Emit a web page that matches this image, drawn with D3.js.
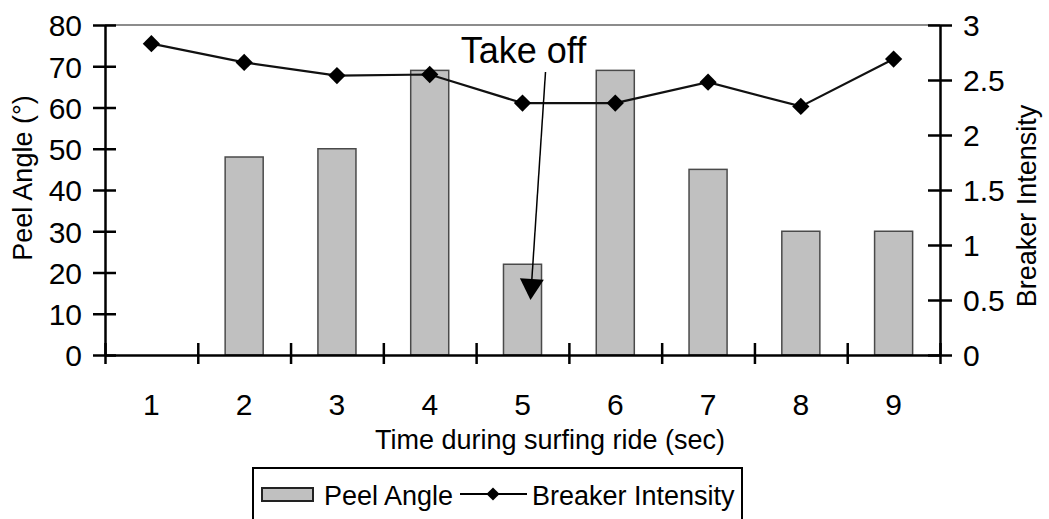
<!DOCTYPE html>
<html>
<head>
<meta charset="utf-8">
<script src="https://cdn.jsdelivr.net/npm/d3@7"></script>
<style>
body { margin: 0; background: #fff; }
text { font-family: "Liberation Sans", Arial, sans-serif; fill: #000; }
</style>
</head>
<body>
<svg id="chart" width="1049" height="519"></svg>
<script>
// data
let times = ['1', '2', '3', '4', '5', '6', '7', '8', '9'];
let peelAngle = [null, 48, 50, 69, 22, 69, 45, 30, 30];
let breakerIntensity = [2.83, 2.66, 2.54, 2.55, 2.29, 2.29, 2.48, 2.26, 2.69];
let leftTicks = [0, 10, 20, 30, 40, 50, 60, 70, 80];
let rightTicks = [0, 0.5, 1, 1.5, 2, 2.5, 3];

let svg = d3.select('#chart');
let plotLeft = 105, plotRight = 940, plotTop = 25, plotBottom = 355;

let x = d3.scaleBand()
    .domain(times)
    .range([plotLeft, plotRight])
    .paddingInner(0.59)
    .paddingOuter(0.295);
let xEdge = d3.scaleLinear().domain([0, times.length]).range([plotLeft, plotRight]);
let yL = d3.scaleLinear().domain([0, 80]).range([plotBottom, plotTop]);
let yR = d3.scaleLinear().domain([0, 3]).range([plotBottom, plotTop]);

// top border of plot area
svg.append('line')
    .attr('x1', plotLeft).attr('x2', plotRight)
    .attr('y1', plotTop).attr('y2', plotTop)
    .attr('stroke', '#8c8c8c')
    .attr('stroke-width', 2);

// bars
svg.append('g').selectAll('rect')
    .data(times.map((t, i) => ({t: t, v: peelAngle[i]})).filter(d => d.v != null))
    .enter()
    .append('rect')
    .attr('x', d => x(d.t))
    .attr('y', d => yL(d.v))
    .attr('width', x.bandwidth())
    .attr('height', d => yL(0) - yL(d.v))
    .attr('fill', '#c0c0c0')
    .attr('stroke', '#4a4a4a')
    .attr('stroke-width', 1.5);

// left axis
let gL = svg.append('g')
    .attr('transform', `translate(${plotLeft},0)`)
    .call(d3.axisLeft(yL).tickValues(leftTicks).tickSize(0).tickPadding(23));
gL.select('.domain').attr('stroke', '#000').attr('stroke-width', 2.5);
gL.selectAll('.tick line').attr('x1', -12).attr('x2', 11).attr('stroke', '#000').attr('stroke-width', 2.5);
gL.selectAll('.tick text').attr('font-size', 30).attr('dy', '0.36em');

// right axis
let gR = svg.append('g')
    .attr('transform', `translate(${plotRight},0)`)
    .call(d3.axisRight(yR).tickValues(rightTicks).tickFormat(d => d).tickSize(0).tickPadding(23));
gR.select('.domain').attr('stroke', '#000').attr('stroke-width', 2.5);
gR.selectAll('.tick line').attr('x1', -12).attr('x2', 12).attr('stroke', '#000').attr('stroke-width', 2.5);
gR.selectAll('.tick text').attr('font-size', 30).attr('dy', '0.36em');

// bottom axis: ticks at category edges, labels at centres
let gB = svg.append('g')
    .attr('transform', `translate(0,${plotBottom})`)
    .call(d3.axisBottom(xEdge).ticks(times.length).tickFormat('').tickSize(0));
gB.select('.domain').attr('stroke', '#000').attr('stroke-width', 2.5);
gB.selectAll('.tick line').attr('y1', -12).attr('y2', 9).attr('stroke', '#000').attr('stroke-width', 2.5);

svg.append('g').selectAll('text')
    .data(times)
    .enter()
    .append('text')
    .attr('x', d => x(d) + x.bandwidth() / 2)
    .attr('y', plotBottom + 60)
    .attr('text-anchor', 'middle')
    .attr('font-size', 30)
    .text(d => d);

// breaker intensity line
let pts = times.map((t, i) => [x(t) + x.bandwidth() / 2, yR(breakerIntensity[i])]);
svg.append('path')
    .attr('d', d3.line()(pts))
    .attr('fill', 'none')
    .attr('stroke', '#111')
    .attr('stroke-width', 2.2);
let diamond = d3.symbol().type(d3.symbolDiamond2).size(190);
svg.append('g').selectAll('path')
    .data(pts)
    .enter()
    .append('path')
    .attr('transform', d => `translate(${d[0]},${d[1]})`)
    .attr('d', diamond)
    .attr('fill', '#000');

// axis titles
svg.append('text')
    .attr('transform', 'translate(32,178) rotate(-90)')
    .attr('text-anchor', 'middle')
    .attr('font-size', 27)
    .text('Peel Angle (°)');
svg.append('text')
    .attr('transform', 'translate(1036,206) rotate(-90)')
    .attr('text-anchor', 'middle')
    .attr('font-size', 27)
    .text('Breaker Intensity');
svg.append('text')
    .attr('x', 550)
    .attr('y', 449)
    .attr('text-anchor', 'middle')
    .attr('font-size', 27)
    .text('Time during surfing ride (sec)');

// take off annotation
let cx5 = x('5') + x.bandwidth() / 2;
svg.append('text')
    .attr('x', cx5 + 1)
    .attr('y', 63)
    .attr('text-anchor', 'middle')
    .attr('font-size', 36)
    .text('Take off');
let a0 = [cx5 + 23, 72], a1 = [cx5 + 8, 300];
let ang = Math.atan2(a1[1] - a0[1], a1[0] - a0[0]);
let headLen = 21, headW = 12;
let base = [a1[0] - headLen * Math.cos(ang), a1[1] - headLen * Math.sin(ang)];
svg.append('line')
    .attr('x1', a0[0]).attr('y1', a0[1])
    .attr('x2', base[0]).attr('y2', base[1])
    .attr('stroke', '#000')
    .attr('stroke-width', 1.5);
svg.append('path')
    .attr('d', 'M' + a1 + 'L' + [base[0] + headW * Math.sin(ang), base[1] - headW * Math.cos(ang)] +
        'L' + [base[0] - headW * Math.sin(ang), base[1] + headW * Math.cos(ang)] + 'Z')
    .attr('fill', '#000');

// legend
let lg = svg.append('g');
lg.append('rect')
    .attr('x', 253).attr('y', 468)
    .attr('width', 489).attr('height', 60)
    .attr('fill', '#fff')
    .attr('stroke', '#000')
    .attr('stroke-width', 2);
lg.append('rect')
    .attr('x', 262).attr('y', 488)
    .attr('width', 51).attr('height', 13)
    .attr('fill', '#c0c0c0')
    .attr('stroke', '#222')
    .attr('stroke-width', 2);
lg.append('text')
    .attr('x', 324).attr('y', 505)
    .attr('font-size', 27)
    .text('Peel Angle');
lg.append('line')
    .attr('x1', 460).attr('x2', 527)
    .attr('y1', 494).attr('y2', 494)
    .attr('stroke', '#000')
    .attr('stroke-width', 2);
lg.append('path')
    .attr('transform', 'translate(493,494)')
    .attr('d', d3.symbol().type(d3.symbolDiamond2).size(110))
    .attr('fill', '#000');
lg.append('text')
    .attr('x', 532).attr('y', 505)
    .attr('font-size', 27)
    .text('Breaker Intensity');
</script>
</body>
</html>
